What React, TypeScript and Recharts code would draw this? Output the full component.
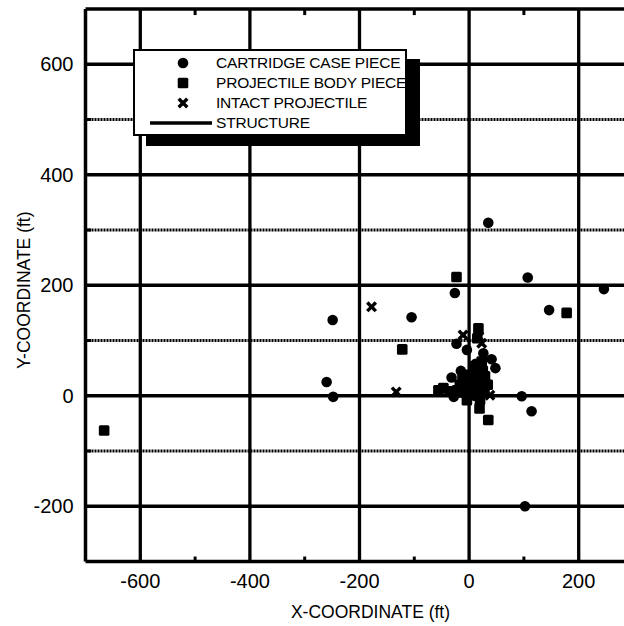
import React from 'react';
import { ScatterChart, Scatter, XAxis, YAxis, ReferenceLine, Legend } from 'recharts';

// axis ticks / grid positions (ft)
const xTicks = [-600, -400, -200, 0, 200];
const yTicks = [-200, 0, 200, 400, 600];
const xMinorTicks = [-500, -300, -100, 100];
const yDottedLines = [-100, 100, 300, 500];
const xDomain = [-700, 300];
const yDomain = [-300, 700];

// debris locations, [x, y] in ft
const cartridgeCase = [
  [-249, 137], [-105, 142], [-260, 25], [-248, -2], [35, 313], [107, 214],
  [246, 193], [-26, 186], [146, 155], [96, -1], [114, -28], [102, -200],
  [-23, 94], [-4, 83], [26, 77], [41, 66], [48, 50], [-32, 33], [-28, -2],
  [12, 58], [30, 25], [-15, 45],
];

const projectileBody = [
  [-666, -63], [-122, 84], [-23, 215], [178, 150], [35, -44], [17, 122],
  [15, 104], [23, 62], [8, 53], [29, 35], [-7, 38], [14, 35], [2, 23],
  [20, 20], [-17, 20], [-47, 14], [-56, 10], [-4, -8], [20, -7], [19, -23],
  [6, 8], [-10, 6], [28, 10], [10, 44], [0, 30], [-5, 18], [10, 15],
  [25, 45], [-22, 10], [15, 0], [34, 20], [-12, 30], [-36, 8], [2, 2],
];

const intactProjectile = [
  [-178, 161], [-133, 7], [-11, 110], [18, 107], [23, 95], [38, 1],
];

const toPoints = (rows: number[][]) => rows.map(([x, y]) => ({ x, y }));

const Dot = (p: any) => <circle cx={p.cx} cy={p.cy} r={5.3} fill="#000" />;
const Block = (p: any) => (
  <rect x={p.cx - 5.3} y={p.cy - 5.3} width={10.6} height={10.6} rx={1.5} fill="#000" />
);
const Cross = (p: any) => (
  <path
    d={`M${p.cx - 4.3},${p.cy - 4.3}L${p.cx + 4.3},${p.cy + 4.3}M${p.cx + 4.3},${p.cy - 4.3}L${p.cx - 4.3},${p.cy + 4.3}`}
    stroke="#000"
    strokeWidth={3.4}
  />
);

const legendItems = [
  { label: 'CARTRIDGE CASE PIECE', kind: 'circle' },
  { label: 'PROJECTILE BODY PIECE', kind: 'square' },
  { label: 'INTACT PROJECTILE', kind: 'cross' },
  { label: 'STRUCTURE', kind: 'line' },
];

function LegendBox() {
  return (
    <div
      style={{
        width: 274,
        height: 87,
        boxSizing: 'border-box',
        border: '2px solid #000',
        background: '#fff',
        boxShadow: '13px 10px 0 #000',
        paddingTop: 2,
        fontSize: 15.5,
        color: '#000',
      }}
    >
      {legendItems.map((item) => (
        <div key={item.label} style={{ display: 'flex', alignItems: 'center', height: 20 }}>
          <svg width={81} height={20} style={{ flex: 'none' }}>
            {item.kind === 'circle' && <Dot cx={48} cy={10} />}
            {item.kind === 'square' && <Block cx={48} cy={10} />}
            {item.kind === 'cross' && <Cross cx={48} cy={10} />}
            {item.kind === 'line' && <line x1={15} x2={77} y1={10} y2={10} stroke="#000" strokeWidth={3.5} />}
          </svg>
          <span style={{ whiteSpace: 'nowrap', lineHeight: '20px', letterSpacing: -0.2 }}>{item.label}</span>
        </div>
      ))}
    </div>
  );
}

export default function App() {
  return (
    <div
      style={{
        position: 'fixed',
        left: 0,
        top: 0,
        width: 624,
        height: 626,
        overflow: 'hidden',
        background: '#fff',
        fontFamily: '"Liberation Sans", Arial, sans-serif',
      }}
    >
      <ScatterChart width={650} height={626} margin={{ top: 9, right: 16.5, bottom: 0, left: 0 }}>
        <XAxis
          type="number"
          dataKey="x"
          domain={xDomain}
          ticks={xTicks}
          allowDataOverflow
          height={64.5}
          axisLine={{ stroke: '#000', strokeWidth: 3.5 }}
          tickLine={false}
          tickSize={6}
          tickMargin={6}
          tick={{ fill: '#000', fontSize: 20 }}
          label={{ value: 'X-COORDINATE (ft)', position: 'insideBottom', offset: 8, dx: 11, fontSize: 17.5, fill: '#000' }}
        />
        <YAxis
          type="number"
          dataKey="y"
          domain={yDomain}
          ticks={yTicks}
          allowDataOverflow
          width={85.5}
          axisLine={{ stroke: '#000', strokeWidth: 3.5 }}
          tickLine={false}
          tickSize={6}
          tickMargin={6}
          tick={{ fill: '#000', fontSize: 20 }}
          label={{ value: 'Y-COORDINATE (ft)', angle: -90, position: 'center', dx: -19, dy: 5, fontSize: 17.5, fill: '#000' }}
        />

        {yDottedLines.map((v) => (
          <ReferenceLine key={`yd${v}`} y={v} stroke="#000" strokeWidth={3} strokeDasharray="2 1" />
        ))}
        {yDottedLines.map((v) => (
          <ReferenceLine key={`ym${v}`} segment={[{ x: -700, y: v }, { x: -690, y: v }]} stroke="#000" strokeWidth={3} />
        ))}
        {xTicks.map((v) => (
          <ReferenceLine key={`xg${v}`} x={v} stroke="#000" strokeWidth={3.3} />
        ))}
        {yTicks.map((v) => (
          <ReferenceLine key={`yg${v}`} y={v} stroke="#000" strokeWidth={3.3} />
        ))}
        {xMinorTicks.map((v) => (
          <ReferenceLine key={`xb${v}`} segment={[{ x: v, y: -300 }, { x: v, y: -291 }]} stroke="#000" strokeWidth={3} />
        ))}
        {xMinorTicks.map((v) => (
          <ReferenceLine key={`xt${v}`} segment={[{ x: v, y: 700 }, { x: v, y: 689 }]} stroke="#000" strokeWidth={3} />
        ))}
        <ReferenceLine y={yDomain[1]} stroke="#000" strokeWidth={3.3} />
        <ReferenceLine x={xDomain[1]} stroke="#000" strokeWidth={3.3} />

        <Scatter name="CARTRIDGE CASE PIECE" data={toPoints(cartridgeCase)} shape={Dot} isAnimationActive={false} />
        <Scatter name="PROJECTILE BODY PIECE" data={toPoints(projectileBody)} shape={Block} isAnimationActive={false} />
        <Scatter name="INTACT PROJECTILE" data={toPoints(intactProjectile)} shape={Cross} isAnimationActive={false} />

        <Legend
          layout="horizontal"
          verticalAlign="middle"
          align="center"
          wrapperStyle={{ left: 133, top: 48.5, width: 274 }}
          content={() => <LegendBox />}
        />
      </ScatterChart>
    </div>
  );
}
